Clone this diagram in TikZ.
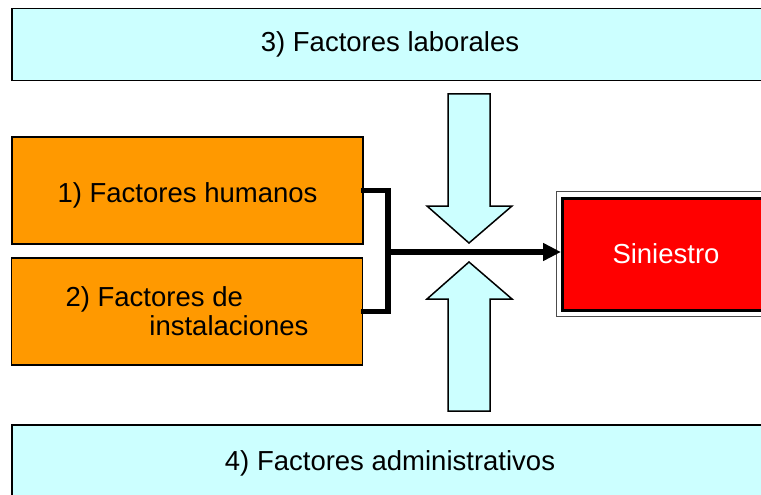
\documentclass[tikz,border=0pt]{standalone}
\usepackage{fontspec}
\setmainfont{Liberation Sans}
\usetikzlibrary{arrows.meta}

\definecolor{celeste}{HTML}{CCFFFF}
\definecolor{naranja}{HTML}{FF9900}
\definecolor{rojo}{HTML}{FF0000}

\tikzset{
  factor/.style={draw=black, line width=1.5pt, fill=celeste, minimum width=756pt, minimum height=72pt, font=\fontsize{27.5}{32}\selectfont},
  causa/.style={draw=black, line width=1.5pt, fill=naranja, minimum width=351pt, minimum height=107pt, font=\fontsize{27.5}{29}\selectfont},
  flecha/.style={draw=black, line width=1.5pt, fill=celeste},
  union/.style={line width=5.5pt}
}

\begin{document}
\begin{tikzpicture}[x=1pt,y=-1pt]
\useasboundingbox (0,0) rectangle (761,495);
\clip (0,0) rectangle (761,495);

\node[factor] (lab) at (390,44.5) {3) Factores laborales};
\node[factor, minimum height=76pt] (adm) at (390,463) {4) Factores administrativos};

\node[causa, text height=30pt] (hum) at (187.5,190.5) {1) Factores humanos};
\node[causa, align=left] (ins) at (187,311.5) {2) Factores de\\\hspace*{3.05em}instalaciones};

% siniestro, doble borde
\node[draw=black, line width=3pt, fill=rojo, text=white, minimum width=207pt, minimum height=112pt,
  font=\fontsize{27.5}{32}\selectfont] (sin) at (666,254) {Siniestro};
\draw[black!70, line width=1pt] ([xshift=-5pt,yshift=5pt]sin.north west) rectangle ([xshift=5pt,yshift=-5pt]sin.south east);

% flechas de los factores
\draw[flecha] (448,94) -- (490,94) -- (490,206) -- (512,206) -- (469,243) -- (427,206) -- (448,206) -- cycle;
\draw[flecha] (448,411) -- (490,411) -- (490,299) -- (512,299) -- (469,262) -- (427,299) -- (448,299) -- cycle;

\coordinate (j) at (388,252);
\draw[union, line cap=rect] (hum.east) -| (j) |- (ins.east);
\draw[union, -{Triangle[length=18pt,width=17pt]}] (j) -- (j -| sin.west);
\end{tikzpicture}
\end{document}
